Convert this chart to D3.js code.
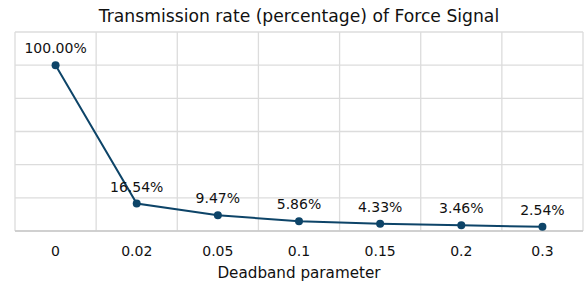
<!DOCTYPE html>
<html>
<head>
<meta charset="utf-8">
<script src="https://cdn.jsdelivr.net/npm/d3@7"></script>
<style>
  body { margin: 0; background: #fff; }
  text { font-family: "DejaVu Sans", Verdana, sans-serif; fill: #111; }
</style>
</head>
<body>
<div id="chart"></div>
<script>
const categories = ["0", "0.02", "0.05", "0.1", "0.15", "0.2", "0.3"];
const rates = [100.00, 16.54, 9.47, 5.86, 4.33, 3.46, 2.54];
const yTicks = [0, 20, 40, 60, 80, 100, 120];

const W = 584, H = 282;
const margin = { top: 32, right: 1, bottom: 51, left: 15 };
const w = W - margin.left - margin.right;
const h = H - margin.top - margin.bottom;

const svg = d3.select("#chart").append("svg")
    .attr("width", W)
    .attr("height", H);

const g = svg.append("g").attr("transform", `translate(${margin.left},${margin.top})`);

const x = d3.scaleBand().domain(categories).range([0, w]).padding(0);
const y = d3.scaleLinear().domain([0, 120]).range([h, 0]);

// horizontal grid
g.selectAll(".hgrid").data(yTicks).enter()
    .append("line")
    .attr("x1", 0).attr("x2", w)
    .attr("y1", d => y(d)).attr("y2", d => y(d))
    .attr("stroke", "#dcdcdc").attr("stroke-width", 1.3);

// vertical grid at band edges
const edges = categories.map(c => x(c)).concat([w]);
g.selectAll(".vgrid").data(edges).enter()
    .append("line")
    .attr("x1", d => d).attr("x2", d => d)
    .attr("y1", 0).attr("y2", h)
    .attr("stroke", "#dcdcdc").attr("stroke-width", 1.3);

// bottom axis line
g.append("line")
    .attr("x1", 0).attr("x2", w)
    .attr("y1", h).attr("y2", h)
    .attr("stroke", "#c8c8c8").attr("stroke-width", 1.5);

// x tick labels
g.selectAll(".xlab").data(categories).enter()
    .append("text")
    .attr("x", d => x(d) + x.bandwidth() / 2)
    .attr("y", h + 25)
    .attr("text-anchor", "middle")
    .attr("font-size", 14)
    .text(d => d);

const cx = (d, i) => x(categories[i]) + x.bandwidth() / 2;

const line = d3.line()
    .x((d, i) => cx(d, i))
    .y(d => y(d));

g.append("path")
    .datum(rates)
    .attr("d", line)
    .attr("fill", "none")
    .attr("stroke", "#0d4468")
    .attr("stroke-width", 2);

g.selectAll(".pt").data(rates).enter()
    .append("circle")
    .attr("cx", cx)
    .attr("cy", d => y(d))
    .attr("r", 4)
    .attr("fill", "#0d4468");

g.selectAll(".vlab").data(rates).enter()
    .append("text")
    .attr("x", cx)
    .attr("y", d => y(d) - 12)
    .attr("text-anchor", "middle")
    .attr("font-size", 14)
    .text(d => d.toFixed(2) + "%");

// title
svg.append("text")
    .attr("x", margin.left + w / 2)
    .attr("y", 22)
    .attr("text-anchor", "middle")
    .attr("font-size", 17.2)
    .text("Transmission rate (percentage) of Force Signal");

// x axis title
svg.append("text")
    .attr("x", margin.left + w / 2)
    .attr("y", 278)
    .attr("text-anchor", "middle")
    .attr("font-size", 15.2)
    .text("Deadband parameter");
</script>
</body>
</html>
